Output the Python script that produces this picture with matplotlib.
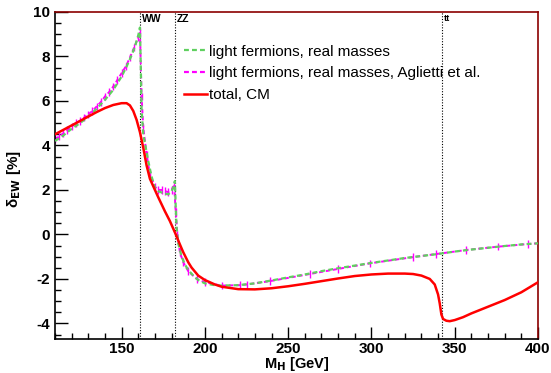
import matplotlib
matplotlib.use("Agg")
import matplotlib.pyplot as plt
from matplotlib.lines import Line2D
from matplotlib.ticker import MultipleLocator

plt.rcParams['font.family'] = ['Liberation Sans', 'DejaVu Sans']
plt.rcParams['axes.unicode_minus'] = False

# light fermions, real masses
mh_lf = [110, 115, 120, 125, 130, 135, 140, 145, 150, 153, 156, 158, 160, 161,
         161.5, 162, 163, 164, 166, 168, 170, 172, 175, 178, 180, 181, 182,
         182.5, 183, 184, 186, 188, 190, 193, 196, 200, 205, 210, 220, 230,
         240, 250, 260, 270, 280, 290, 300, 310, 320, 330, 340, 350, 360, 370,
         380, 390, 400]
d_lf = [4.2, 4.45, 4.75, 5.0, 5.3, 5.65, 6.05, 6.5, 7.1, 7.55, 8.05, 8.45, 8.95, 9.3,
        7.6, 5.6, 4.5, 4.1, 3.3, 2.6, 2.1, 1.95, 1.85, 1.8, 1.95, 2.1, 2.4,
        1.2, 0.3, -0.4, -1.0, -1.35, -1.6, -1.85, -2.05, -2.2, -2.27, -2.3, -2.28, -2.2,
        -2.07, -1.93, -1.8, -1.65, -1.52, -1.4, -1.28, -1.17, -1.06, -0.97, -0.88, -0.77,
        -0.68, -0.6, -0.52, -0.45, -0.4]

# light fermions, real masses, Aglietti et al.
mh_ag = [110, 112.5, 115, 117.5, 120, 122.5, 125, 127.5, 130, 132.5, 135, 137.5,
         140, 142.5, 145, 147.5, 150, 152.5, 155, 157.5, 160, 161, 162, 163, 165,
         167, 170, 172, 174, 176, 178, 180, 181.5, 182.5, 183.5, 185, 187, 190,
         195, 200, 210, 221, 225, 239, 263, 280, 299, 325, 339, 357, 376, 394, 400]
d_ag = [4.3, 4.4, 4.55, 4.7, 4.85, 5.0, 5.1, 5.25, 5.4, 5.55, 5.75, 5.95,
        6.2, 6.4, 6.65, 6.95, 7.25, 7.55, 7.95, 8.4, 8.85, 9.1, 6.2, 4.8, 3.6,
        2.7, 2.15, 2.0, 2.0, 1.95, 1.9, 2.0, 2.25, 1.0, 0.0, -0.8, -1.25, -1.65,
        -2.0, -2.15, -2.3, -2.28, -2.25, -2.1, -1.78, -1.55, -1.3, -1.02, -0.88, -0.7,
        -0.55, -0.43, -0.4]

# total, CM
mh_cm = [110, 115, 120, 125, 130, 135, 140, 145, 150, 153, 155, 157, 159, 161,
         163, 165, 167, 170, 172, 176, 179, 182, 185, 187, 190, 192, 196, 200,
         206, 210, 220, 230, 240, 250, 260, 270, 280, 290, 300, 310, 320, 325,
         330, 335, 338, 340, 341, 342, 343, 345, 347, 350, 355, 360, 370, 380,
         390, 400]
d_cm = [4.5, 4.7, 4.9, 5.1, 5.3, 5.5, 5.68, 5.82, 5.9, 5.9, 5.8, 5.55, 5.15, 4.6,
        3.9, 3.1, 2.5, 2.0, 1.67, 1.04, 0.6, 0.09, -0.45, -0.8, -1.25, -1.49, -1.85, -2.05,
        -2.25, -2.35, -2.46, -2.47, -2.42, -2.33, -2.22, -2.1, -1.98, -1.87, -1.8, -1.76, -1.76, -1.78,
        -1.85, -2.0, -2.25, -2.7, -3.1, -3.6, -3.8, -3.88, -3.9, -3.85, -3.72, -3.55, -3.25, -2.95,
        -2.6, -2.15]

thresholds = [161.0, 182.2, 342.5]
threshold_labels = ['WW', 'ZZ', 'tt']
threshold_sizes = [7.5, 7.5, 6.5]

c_lf = '#5fd05f'
c_ag = '#ff00ff'
c_cm = '#ff0000'
dash = (0, (2.2, 1.4))

fig = plt.figure(figsize=(5.51, 3.73), dpi=100)
ax = fig.add_axes([0.0998, 0.0912, 0.8766, 0.8767])

for m, lab, fs in zip(thresholds, threshold_labels, threshold_sizes):
    ax.axvline(m, color='black', ls=(0, (1, 1.5)), lw=0.8, zorder=1)
    ax.text(m + 1.2, 9.93, lab, fontsize=fs, fontweight='bold', va='top', ha='left')

ax.plot(mh_lf, d_lf, color=c_lf, ls=dash, lw=1.6, zorder=3)
ax.errorbar(mh_ag, d_ag, yerr=0.17, color=c_ag, ls=dash, lw=1.4,
            elinewidth=1.0, capsize=0, zorder=2)
ax.plot(mh_cm, d_cm, color=c_cm, lw=1.8, zorder=4)

ax.set_xlim(110, 400)
ax.set_ylim(-4.7, 10)
ax.xaxis.set_major_locator(MultipleLocator(50))
ax.xaxis.set_minor_locator(MultipleLocator(10))
ax.yaxis.set_major_locator(MultipleLocator(2))
ax.yaxis.set_minor_locator(MultipleLocator(0.5))
ax.tick_params(which='both', direction='in', top=False, right=False,
               labelsize=11, width=1.0)
ax.tick_params(which='major', length=9)
ax.tick_params(which='minor', length=4.5)
ax.tick_params(axis='x', pad=2.5)
for lab in ax.get_xticklabels() + ax.get_yticklabels():
    lab.set_fontweight('bold')

for s in ['left', 'bottom']:
    ax.spines[s].set_color('black')
    ax.spines[s].set_linewidth(1.2)
for s in ['top', 'right']:
    ax.spines[s].set_color('#8b0000')
    ax.spines[s].set_linewidth(1.2)

ax.set_xlabel(r'M$_{\mathbf{H}}$ [GeV]', fontsize=10.5, fontweight='bold')
ax.xaxis.set_label_coords(0.5, -0.05)
ax.set_ylabel(r'δ$_{\mathbf{EW}}$ [%]', fontsize=11, fontweight='bold')
ax.yaxis.set_label_coords(-0.066, 0.49)

handles = [Line2D([], [], color=c_lf, ls=dash, lw=1.6),
           Line2D([], [], color=c_ag, ls=dash, lw=1.6),
           Line2D([], [], color=c_cm, lw=1.8)]
labels = ['light fermions, real masses',
          'light fermions, real masses, Aglietti et al.',
          'total, CM']
ax.legend(handles, labels, loc='upper left', bbox_to_anchor=(0.268, 0.90),
          frameon=False, fontsize=11, handlelength=1.5, handletextpad=0.1,
          labelspacing=0.5, borderaxespad=0, borderpad=0)

fig.savefig('out.png', dpi=100)
